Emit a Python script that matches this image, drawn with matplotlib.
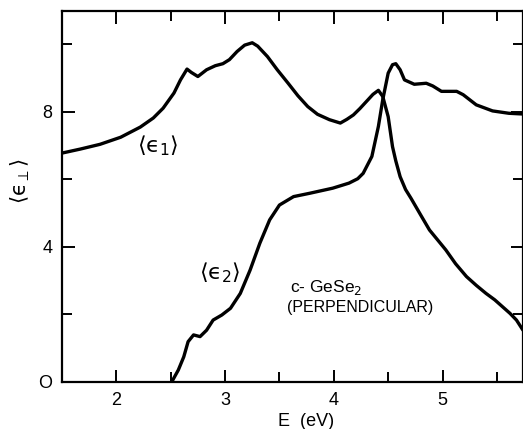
import matplotlib
matplotlib.use("Agg")
import matplotlib.pyplot as plt
from matplotlib.ticker import MultipleLocator

plt.rcParams['font.family'] = ['Liberation Sans', 'DejaVu Sans']
plt.rcParams['mathtext.fontset'] = 'custom'
plt.rcParams['mathtext.rm'] = 'DejaVu Sans'
plt.rcParams['mathtext.it'] = 'DejaVu Sans'
plt.rcParams['mathtext.bf'] = 'DejaVu Sans:bold'
plt.rcParams['mathtext.sf'] = 'DejaVu Sans'

# <eps1> (real part)
e1_E = [1.50, 1.67, 1.85, 2.04, 2.22, 2.34, 2.43, 2.53, 2.59, 2.65, 2.69, 2.75, 2.83, 2.91,
        2.98, 3.04, 3.11, 3.18, 3.25, 3.30, 3.39, 3.48, 3.58, 3.67, 3.76, 3.85, 3.96, 4.06,
        4.12, 4.18, 4.24, 4.30, 4.36, 4.41, 4.45, 4.50, 4.54, 4.57, 4.61, 4.66, 4.71, 4.80,
        4.88, 5.03, 5.12, 5.22, 5.31, 5.40, 5.48, 5.55, 5.62, 5.68, 5.74]
e1_V = [6.78, 6.90, 7.04, 7.25, 7.55, 7.82, 8.11, 8.56, 8.95, 9.27, 9.17, 9.05, 9.25, 9.37,
        9.43, 9.55, 9.79, 9.98, 10.05, 9.95, 9.64, 9.25, 8.85, 8.48, 8.16, 7.93, 7.77, 7.67,
        7.78, 7.91, 8.10, 8.31, 8.52, 8.64, 8.46, 7.86, 6.97, 6.55, 6.08, 5.70, 5.44, 4.94,
        4.50, 3.91, 3.50, 3.12, 2.86, 2.62, 2.43, 2.23, 2.03, 1.83, 1.53]

# <eps2> (imaginary part)
e2_E = [2.51, 2.57, 2.62, 2.66, 2.71, 2.77, 2.83, 2.89, 2.97, 3.05, 3.14, 3.23, 3.32, 3.41,
        3.50, 3.63, 3.78, 3.99, 4.14, 4.22, 4.27, 4.35, 4.41, 4.45, 4.50, 4.54, 4.57, 4.61,
        4.65, 4.74, 4.85, 4.91, 4.99, 5.13, 5.19, 5.31, 5.46, 5.61, 5.73]
e2_V = [0.00, 0.35, 0.74, 1.19, 1.39, 1.34, 1.53, 1.83, 1.98, 2.18, 2.62, 3.31, 4.11, 4.80,
        5.24, 5.49, 5.59, 5.74, 5.89, 6.02, 6.18, 6.68, 7.57, 8.36, 9.15, 9.40, 9.43, 9.25,
        8.95, 8.82, 8.85, 8.77, 8.61, 8.61, 8.51, 8.21, 8.03, 7.96, 7.94]

x_ticks = [2, 3, 4, 5]
y_ticks = [0, 4, 8]

fig = plt.figure(figsize=(5.23, 4.29), dpi=100)
ax = fig.add_axes([0.1185, 0.110, 0.8815, 0.865])

ax.plot(e1_E, e1_V, color='black', lw=2.4, solid_joinstyle='round', solid_capstyle='round')
ax.plot(e2_E, e2_V, color='black', lw=2.4, solid_joinstyle='round', solid_capstyle='round')

ax.set_xlim(1.5, 5.74)
ax.set_ylim(0, 11)
ax.set_xticks(x_ticks)
ax.set_yticks(y_ticks)
ax.set_yticklabels(['O', '4', '8'])
ax.xaxis.set_minor_locator(MultipleLocator(0.5))
ax.yaxis.set_minor_locator(MultipleLocator(2))
ax.tick_params(which='both', direction='in', top=True, right=True, width=1.4, labelsize=13, pad=7)
ax.tick_params(which='major', length=9)
ax.tick_params(which='minor', length=7)
for s in ax.spines.values():
    s.set_linewidth(1.6)

ax.set_xlabel('E  (eV)', fontsize=13)
ax.xaxis.set_label_coords(0.53, -0.085)
ax.set_ylabel(r'$\langle ϵ_{\perp}\rangle$', fontsize=15)
ax.yaxis.set_label_coords(-0.065, 0.54)

ax.text(2.38, 7.0, r'$\langle ϵ_1\rangle$', fontsize=16, ha='center', va='center')
ax.text(2.95, 3.22, r'$\langle ϵ_2\rangle$', fontsize=16, ha='center', va='center')
ax.text(3.60, 2.8, r'c- GeSe$_2$', fontsize=12.5, ha='left', va='center')
ax.text(3.57, 2.2, '(PERPENDICULAR)', fontsize=11.5, ha='left', va='center')

fig.savefig('out.png', dpi=100)
